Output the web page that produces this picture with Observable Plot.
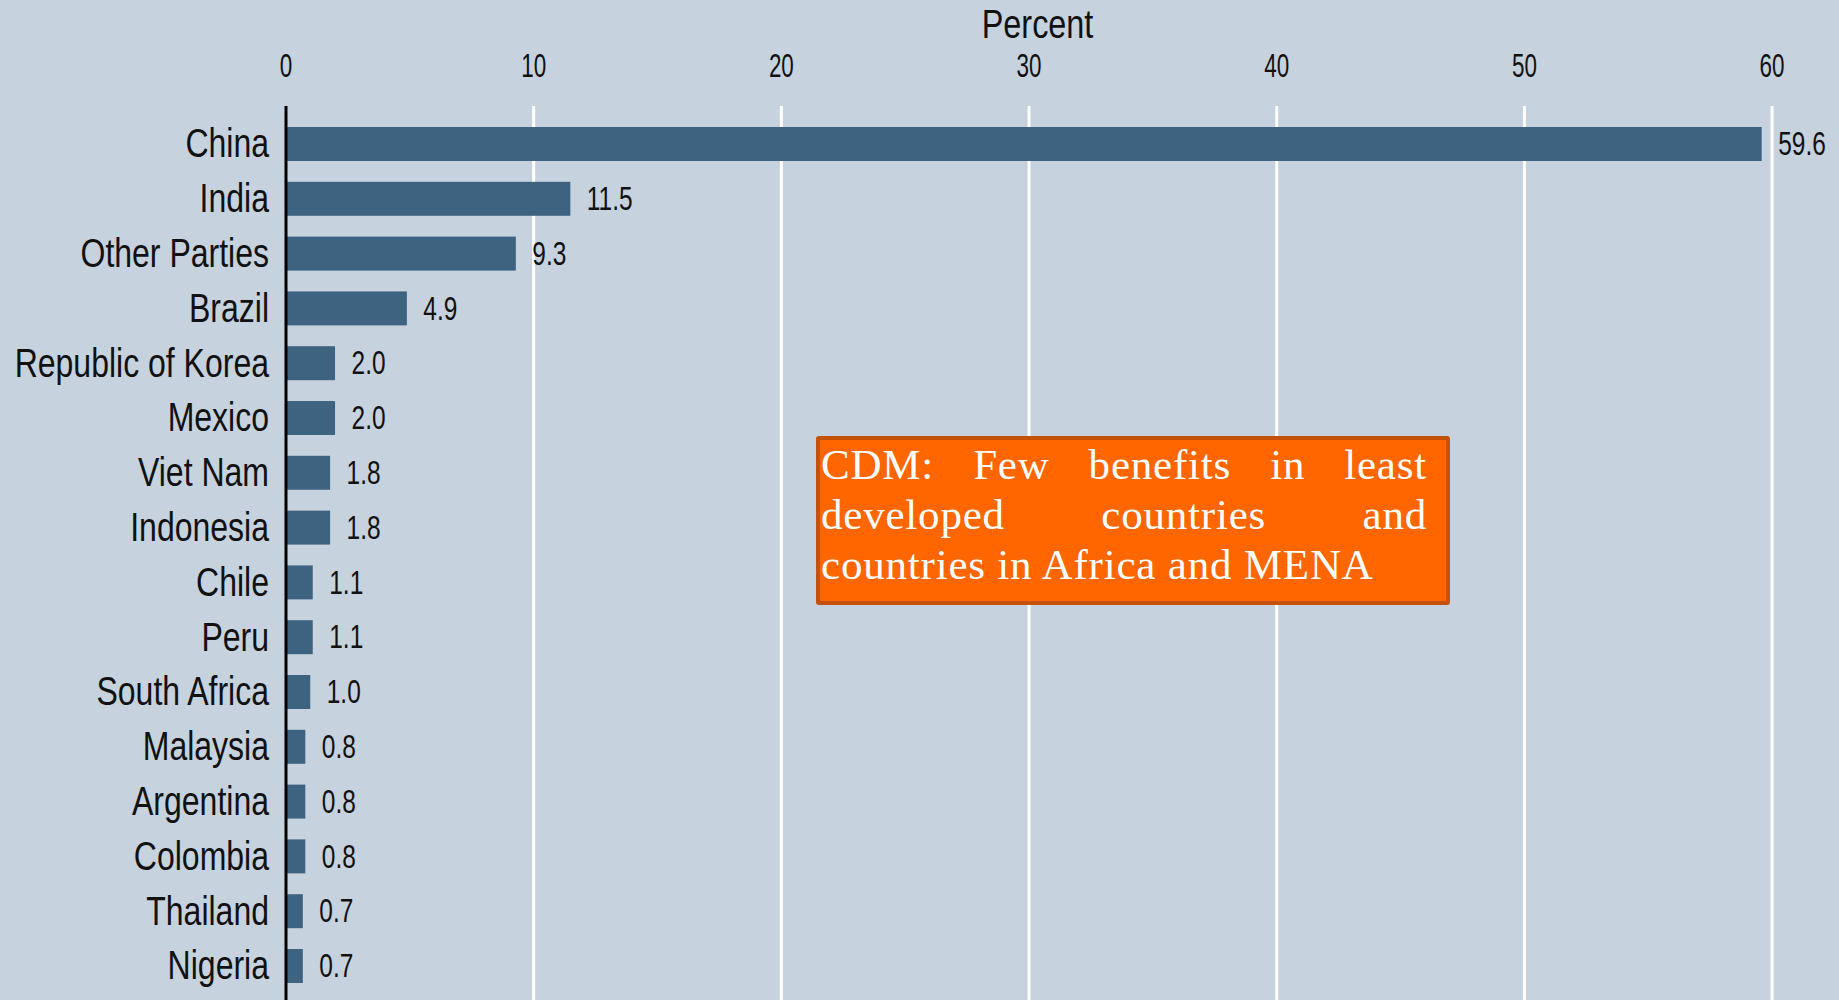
<!DOCTYPE html>
<html>
<head>
<meta charset="utf-8">
<script src="https://cdn.jsdelivr.net/npm/d3@7"></script>
<script src="https://cdn.jsdelivr.net/npm/@observablehq/plot@0.6"></script>
<style>
  html, body { margin: 0; padding: 0; background: #c6d2de; }
  #wrap { position: relative; width: 1839px; height: 1000px; overflow: hidden; }
  #note {
    position: absolute; left: 816px; top: 436px; width: 634px; height: 169px;
    box-sizing: border-box; background: #ff6600; border: 4px solid #c4520a; border-radius: 3px;
    color: #fff; font-family: "Liberation Serif", "Times New Roman", serif; font-size: 43px;
    line-height: 50px; letter-spacing: 0.8px; padding: 0 19px 0 1px;
  }
  #note .j { text-align: justify; text-align-last: justify; }
  #note .l { text-align: left; }
</style>
</head>
<body>
<div id="wrap"></div>
<script>
// ---- data ----
const countries = ["China", "India", "Other Parties", "Brazil", "Republic of Korea", "Mexico", "Viet Nam",
  "Indonesia", "Chile", "Peru", "South Africa", "Malaysia", "Argentina", "Colombia", "Thailand", "Nigeria"];
const shares = [59.6, 11.5, 9.3, 4.9, 2.0, 2.0, 1.8, 1.8, 1.1, 1.1, 1.0, 0.8, 0.8, 0.8, 0.7, 0.7];
const xTicks = [0, 10, 20, 30, 40, 50, 60];
const gridTicks = [10, 20, 30, 40, 50, 60];
const axisTitle = "Percent";
const noteLines = ["CDM: Few benefits in least", "developed countries and", "countries in Africa and MENA"];

const data = countries.map((c, i) => ({country: c, share: shares[i]}));

const chart = Plot.plot({
  width: 1839,
  height: 1000,
  marginLeft: 285.5,
  marginRight: 67.4,
  marginTop: 106,
  marginBottom: 0,
  style: {background: "#c6d2de", fontFamily: "'Liberation Sans', Arial, sans-serif", color: "#111", overflow: "visible"},
  x: {domain: [0, 60], range: [285.5, 1771.6], axis: null},
  y: {domain: countries, range: [116.6, 993.4], paddingInner: 0.38, paddingOuter: 0.19, round: false, axis: null},
  marks: [
    Plot.ruleX(gridTicks, {stroke: "#ffffff", strokeWidth: 3}),
    Plot.barX(data, {x: "share", y: "country", fill: "#3e6380"}),
    Plot.ruleX([0], {stroke: "#000000", strokeWidth: 3}),
    Plot.axisX(xTicks, {anchor: "top", tickSize: 0, tickPadding: 30, fontSize: 33, label: null, fill: "#111"}),
    Plot.axisY({anchor: "left", tickSize: 0, tickPadding: 17, fontSize: 40, label: null, fill: "#111"}),
    Plot.text(data, {x: "share", y: "country", text: d => d.share.toFixed(1), dx: 16, textAnchor: "start", fontSize: 33.5, fill: "#111"}),
    Plot.text([axisTitle], {frameAnchor: "top", dx: 8.5, dy: -69, lineAnchor: "bottom", fontSize: 40.5, fill: "#111"})
  ]
});

// horizontally condense text (the reference uses a narrow face)
function squeeze(sel, s) {
  chart.querySelectorAll(sel).forEach(t => {
    const x = +(t.getAttribute("x") || 0);
    const tr = t.getAttribute("transform") || "";
    t.setAttribute("transform", `${tr} translate(${x},0) scale(${s},1) translate(${-x},0)`);
  });
}
squeeze('g[font-size="40"] text', 0.8);
squeeze('g[font-size="40.5"] text', 0.8);
squeeze('g[font-size="33"] text', 0.68);
squeeze('g[font-size="33.5"] text', 0.73);

const wrap = document.getElementById("wrap");
wrap.appendChild(chart);

const note = document.createElement("div");
note.id = "note";
noteLines.forEach((line, i) => {
  const d = document.createElement("div");
  d.className = i < noteLines.length - 1 ? "j" : "l";
  d.textContent = line;
  note.appendChild(d);
});
wrap.appendChild(note);
</script>
</body>
</html>
